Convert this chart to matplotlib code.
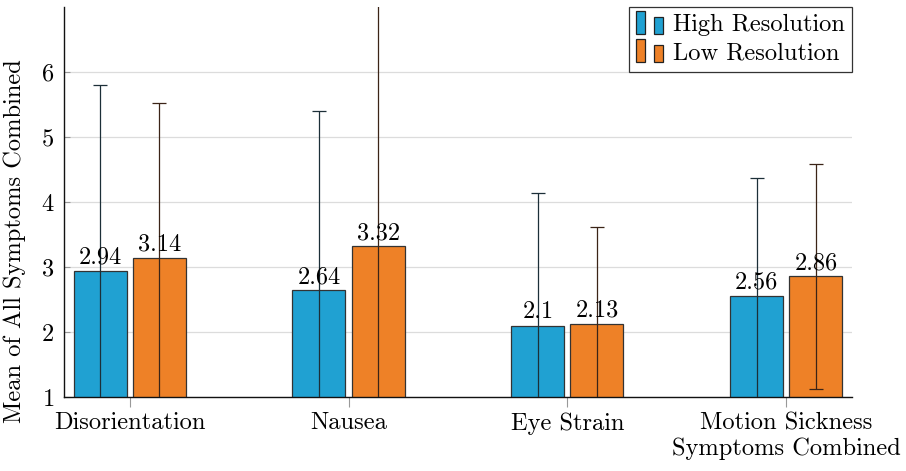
import numpy as np
import matplotlib
matplotlib.use("Agg")
import matplotlib.pyplot as plt
from matplotlib.patches import Rectangle, Patch
from matplotlib.legend_handler import HandlerBase

plt.rcParams['font.family'] = ['cmr10', 'DejaVu Serif']
plt.rcParams['axes.formatter.use_mathtext'] = True
plt.rcParams['mathtext.fontset'] = 'cm'

# Daten
categories = ['Disorientation', 'Nausea', 'Eye Strain', 'Motion Sickness\nSymptoms Combined']
high_mean = [2.94, 2.64, 2.10, 2.56]
low_mean = [3.14, 3.32, 2.13, 2.86]
high_sd = [2.86, 2.76, 2.04, 1.81]
low_sd = [2.38, 4.00, 1.49, 1.73]
high_labels = ['2.94', '2.64', '2.1', '2.56']
low_labels = ['3.14', '3.32', '2.13', '2.86']

blue = '#20a1d2'
orange = '#ee8127'
fs = 17.6


class HandlerTwoBars(HandlerBase):
    # two small bars like pgfplots ybar legend
    def create_artists(self, legend, orig_handle, xdescent, ydescent,
                       width, height, fontsize, trans):
        fc = orig_handle.get_facecolor()
        x0, y0 = -xdescent, -ydescent - 0.15 * height
        bw = 0.33 * width
        r1 = Rectangle((x0, y0), bw, 1.35 * height, fc=fc, ec='#222222',
                       lw=0.9, transform=trans)
        r2 = Rectangle((x0 + 0.67 * width, y0), bw, 1.0 * height, fc=fc,
                       ec='#222222', lw=0.9, transform=trans)
        return [r1, r2]


fig = plt.figure(figsize=(9.06, 4.71), dpi=100)
ax = fig.add_axes([0.0706, 0.1571, 0.8698, 0.8280])

x = np.arange(len(categories))
w = 0.242
off = 0.135

b1 = ax.bar(x - off, high_mean, w, color=blue, edgecolor='#333333',
            linewidth=0.9, zorder=2, label='High Resolution')
b2 = ax.bar(x + off, low_mean, w, color=orange, edgecolor='#333333',
            linewidth=0.9, zorder=2, label='Low Resolution')

ax.errorbar(x - off, high_mean, yerr=high_sd, fmt='none', ecolor='#1c2f38',
            elinewidth=0.9, capsize=5, capthick=0.9, zorder=3)
ax.errorbar(x + off, low_mean, yerr=low_sd, fmt='none', ecolor='#3b2417',
            elinewidth=0.9, capsize=5, capthick=0.9, zorder=3)

for xi, m, t in zip(x - off, high_mean, high_labels):
    ax.annotate(t, (xi, m), xytext=(0, 1.5), textcoords='offset points',
                ha='center', va='bottom', fontsize=fs, zorder=4)
for xi, m, t in zip(x + off, low_mean, low_labels):
    ax.annotate(t, (xi, m), xytext=(0, 1.5), textcoords='offset points',
                ha='center', va='bottom', fontsize=fs, zorder=4)

ax.set_xlim(-0.30, 3.30)
ax.set_ylim(1, 7)
ax.set_yticks([1, 2, 3, 4, 5, 6])
ax.set_xticks(x)
ax.set_xticklabels(categories, fontsize=fs)
ax.tick_params(axis='y', direction='in', length=4, color='#999999',
               labelsize=fs, pad=7)
ax.tick_params(axis='x', direction='out', length=7, color='#999999',
               labelsize=fs, pad=4)
ax.grid(axis='y', color='#dcdcdc', linewidth=0.9, zorder=0)
ax.set_axisbelow(True)

for s in ['top', 'right']:
    ax.spines[s].set_visible(False)
for s in ['left', 'bottom']:
    ax.spines[s].set_linewidth(1.0)
    ax.spines[s].set_color('#111111')

ax.set_ylabel('Mean of All Symptoms Combined', fontsize=fs)
ax.yaxis.set_label_coords(-0.048, 0.40)

leg = ax.legend(handles=[Patch(facecolor=blue), Patch(facecolor=orange)],
                labels=['High Resolution', 'Low Resolution'],
                handler_map={Patch: HandlerTwoBars()},
                loc='upper right', bbox_to_anchor=(1.0, 1.0), borderaxespad=0,
                fancybox=False, edgecolor='#333333', fontsize=fs,
                handlelength=1.1, handletextpad=0.4, borderpad=0.3,
                labelspacing=0.25, framealpha=1)
leg.get_frame().set_linewidth(0.9)

fig.savefig('out.png', dpi=100)
